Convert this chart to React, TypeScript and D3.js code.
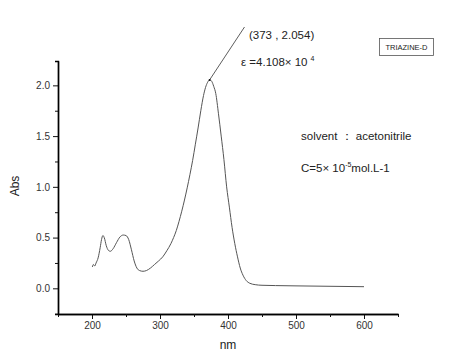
import React, { useEffect, useRef } from "react";
import * as d3 from "d3";

// UV-vis spectrum
const wavelengths = [
  200.5, 202, 204, 206, 209, 212, 214, 216, 218, 221, 224, 227, 231, 236, 241, 246, 250, 254, 258,
  262, 266, 270, 275, 280, 286, 292, 298, 304, 310, 316, 320, 324, 328, 332, 336, 340, 344, 348,
  352, 356, 360, 364, 367, 370, 373, 376, 379, 382, 386, 390, 394, 398, 402, 406, 410, 414, 418,
  422, 427, 432, 440, 450, 470, 500, 550, 600,
];
const absorbance = [
  0.21, 0.235, 0.22, 0.25, 0.3, 0.4, 0.48, 0.52, 0.5, 0.42, 0.375, 0.365, 0.39, 0.45, 0.505, 0.525,
  0.52, 0.48, 0.38, 0.27, 0.2, 0.175, 0.168, 0.175, 0.2, 0.235, 0.27, 0.31, 0.37, 0.44, 0.5, 0.57,
  0.66, 0.76, 0.87, 0.99, 1.12, 1.26, 1.42, 1.58, 1.75, 1.9, 1.98, 2.03, 2.054, 2.04, 1.99, 1.92,
  1.72, 1.5, 1.27, 1.0, 0.8, 0.6, 0.44, 0.31, 0.2, 0.13, 0.075, 0.05, 0.036, 0.03, 0.027, 0.024,
  0.02, 0.016,
];
const xMajor = [200, 300, 400, 500, 600];
const xMinor = [150, 250, 350, 450, 550, 650];
const yMajor = [0, 0.5, 1.0, 1.5, 2.0];
const yMinor = [-0.25, 0.25, 0.75, 1.25, 1.75];
const peak = { x: 373, y: 2.054 };

const W = 462;
const H = 361;

const App = () => {
  const svgRef = useRef<SVGSVGElement>(null);

  useEffect(() => {
    const svg = d3.select(svgRef.current);
    svg.selectAll("*").remove();

    const x = d3.scaleLinear().domain([150, 650]).range([58, 398]);
    const y = d3.scaleLinear().domain([-0.253, 2.24]).range([314, 61]);
    const font = "'Liberation Sans', Arial, sans-serif";

    // axes
    const xAxis = svg.append("g").attr("transform", `translate(0,${y(-0.253)})`);
    xAxis.call(d3.axisBottom(x).tickValues(xMajor).tickSize(5).tickSizeOuter(0).tickPadding(3));
    xAxis.append("g").call(
      d3.axisBottom(x).tickValues(xMinor).tickSize(3).tickSizeOuter(0).tickFormat(() => "")
    );
    xAxis.selectAll(".domain").attr("stroke-width", 1.4);

    const yAxis = svg.append("g").attr("transform", `translate(${x(150)},0)`);
    yAxis.call(
      d3.axisLeft(y).tickValues(yMajor).tickSize(5).tickSizeOuter(3).tickPadding(3).tickFormat(d3.format(".1f"))
    );
    yAxis.append("g").call(
      d3.axisLeft(y).tickValues(yMinor).tickSize(3).tickSizeOuter(0).tickFormat(() => "")
    );
    yAxis.selectAll(".domain").attr("stroke-width", 1.4);

    svg.selectAll(".tick text").attr("font-family", font).attr("font-size", 10).attr("fill", "#333");
    svg.selectAll(".tick line").attr("stroke", "#111");

    // axis titles
    svg.append("text").attr("x", x(400)).attr("y", 349).attr("text-anchor", "middle")
      .attr("font-family", font).attr("font-size", 12).attr("fill", "#222").text("nm");
    svg.append("text").attr("transform", `translate(19,186) rotate(-90)`).attr("text-anchor", "middle")
      .attr("font-family", font).attr("font-size", 12).attr("fill", "#222").text("Abs");

    // spectrum
    const data = wavelengths.map((w, i) => ({ x: w, y: absorbance[i] }));
    const line = d3.line<{ x: number; y: number }>()
      .x(d => x(d.x))
      .y(d => y(d.y))
      .curve(d3.curveMonotoneX);
    svg.append("path").datum(data).attr("fill", "none").attr("stroke", "#555")
      .attr("stroke-width", 1).attr("d", line);

    // peak annotation
    svg.append("line").attr("x1", x(peak.x)).attr("y1", y(peak.y))
      .attr("x2", 244.5).attr("y2", 27).attr("stroke", "#333").attr("stroke-width", 0.8);
    svg.append("circle").attr("cx", x(peak.x)).attr("cy", y(peak.y)).attr("r", 1).attr("fill", "#111");

    const t1 = svg.append("text").attr("x", 249).attr("y", 39).attr("font-family", font)
      .attr("font-size", 11.5).attr("fill", "#222");
    t1.text(`(${peak.x} , ${peak.y.toFixed(3)})`);

    const t2 = svg.append("text").attr("x", 241).attr("y", 66).attr("font-family", font)
      .attr("font-size", 11.5).attr("fill", "#222");
    t2.append("tspan").text("ε =4.108× 10");
    t2.append("tspan").attr("dx", 3).attr("dy", -5).attr("font-size", 7).text("4");

    // solvent / concentration
    svg.append("text").attr("x", 301).attr("y", 140).attr("font-family", font)
      .attr("font-size", 11.5).attr("fill", "#222").text("solvent ：  acetonitrile");
    const t3 = svg.append("text").attr("x", 301).attr("y", 172).attr("font-family", font)
      .attr("font-size", 11.5).attr("fill", "#222");
    t3.append("tspan").text("C=5× 10");
    t3.append("tspan").attr("dy", -5).attr("font-size", 7).text("-5");
    t3.append("tspan").attr("dy", 5).text("mol.L-1");

    // label box
    svg.append("rect").attr("x", 379.5).attr("y", 38.5).attr("width", 54).attr("height", 17)
      .attr("fill", "white").attr("stroke", "#555").attr("stroke-width", 0.8);
    svg.append("text").attr("x", 406.5).attr("y", 50).attr("text-anchor", "middle")
      .attr("font-family", font).attr("font-size", 7.5).attr("fill", "#222").text("TRIAZINE-D");
  }, []);

  return (
    <svg
      ref={svgRef}
      width={W}
      height={H}
      style={{ position: "absolute", left: 0, top: 0, background: "white", display: "block" }}
    ></svg>
  );
};

export default App;
